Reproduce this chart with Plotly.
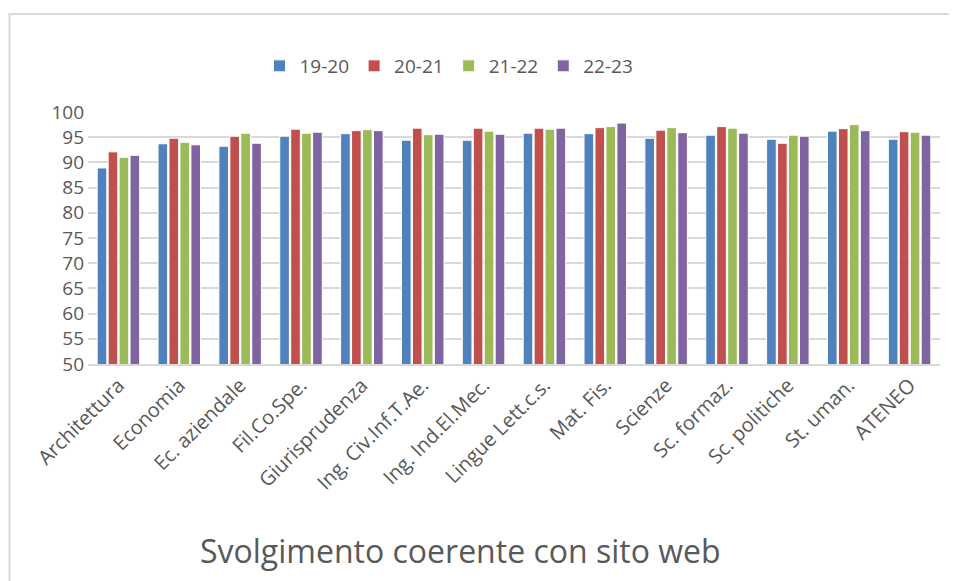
import plotly.graph_objects as go

categories = [
    "Architettura", "Economia", "Ec. aziendale", "Fil.Co.Spe.", "Giurisprudenza",
    "Ing. Civ.Inf.T.Ae.", "Ing. Ind.El.Mec.", "Lingue Lett.c.s.", "Mat. Fis.",
    "Scienze", "Sc. formaz.", "Sc. politiche", "St. uman.", "ATENEO",
]

y_19_20 = [88.9, 93.7, 93.2, 95.2, 95.7, 94.4, 94.4, 95.8, 95.7, 94.8, 95.4, 94.6, 96.2, 94.6]
y_20_21 = [92.1, 94.8, 95.2, 96.6, 96.3, 96.8, 96.8, 96.8, 96.9, 96.4, 97.1, 93.8, 96.7, 96.1]
y_21_22 = [91.0, 94.0, 95.8, 95.8, 96.5, 95.5, 96.2, 96.6, 97.1, 96.9, 96.8, 95.4, 97.5, 96.0]
y_22_23 = [91.4, 93.5, 93.8, 96.0, 96.3, 95.6, 95.6, 96.8, 97.8, 95.9, 95.8, 95.2, 96.3, 95.4]

series = {
    "19-20": (y_19_20, "#4F81BD"),
    "20-21": (y_20_21, "#C0504D"),
    "21-22": (y_21_22, "#9BBB59"),
    "22-23": (y_22_23, "#8064A2"),
}

FONT = "Open Sans"
GREY = "#595959"

fig = go.Figure()
for name, (vals, color) in series.items():
    fig.add_trace(go.Bar(
        x=categories, y=vals, name=name,
        marker=dict(color=color, line=dict(color="white", width=1)),
    ))

# the page adds an 8px offset, so screen pixel = figure pixel + 8
OFF = 8
# plot area on screen: x 88..940, y 112..364
L, T = 88 - OFF, 112 - OFF
pw, ph = 852, 252
R, B = 957 - L - pw, 581 - T - ph

def px(x):
    return (x - OFF - L) / pw

def py(y):
    return (T + ph - (y - OFF)) / ph

fig.update_layout(
    width=957, height=581,
    margin=dict(l=L, r=R, t=T, b=B),
    paper_bgcolor="white", plot_bgcolor="white",
    barmode="group", bargap=0.28, bargroupgap=0.12,
    font=dict(family=FONT, color=GREY),
    legend=dict(
        orientation="h", x=px(449), xanchor="center", y=py(66), yanchor="middle",
        font=dict(size=19, color=GREY), itemwidth=30, traceorder="normal",
    ),
    showlegend=True,
)

fig.update_yaxes(
    range=[50, 100], dtick=5, showgrid=True, gridcolor="#D9D9D9", gridwidth=1.5,
    zeroline=False, showline=False, ticks="", tickfont=dict(size=19, color=GREY),
    ticklabelstandoff=3,
)
fig.update_xaxes(
    showline=True, linecolor="#D9D9D9", linewidth=1.5, ticks="", tickangle=-45,
    tickfont=dict(size=20, color=GREY),
)

fig.add_annotation(
    text="Svolgimento coerente con sito web", xref="paper", yref="paper",
    x=px(460), y=py(550), xanchor="center", yanchor="middle", showarrow=False,
    font=dict(size=32, color=GREY, family=FONT),
)

# chart frame (partly cropped)
fig.add_shape(
    type="rect", xref="paper", yref="paper",
    x0=px(OFF + 1.5), x1=px(990), y0=py(620), y1=py(14),
    line=dict(color="#D9D9D9", width=2), fillcolor="rgba(0,0,0,0)",
)

fig.write_html("out.html")
